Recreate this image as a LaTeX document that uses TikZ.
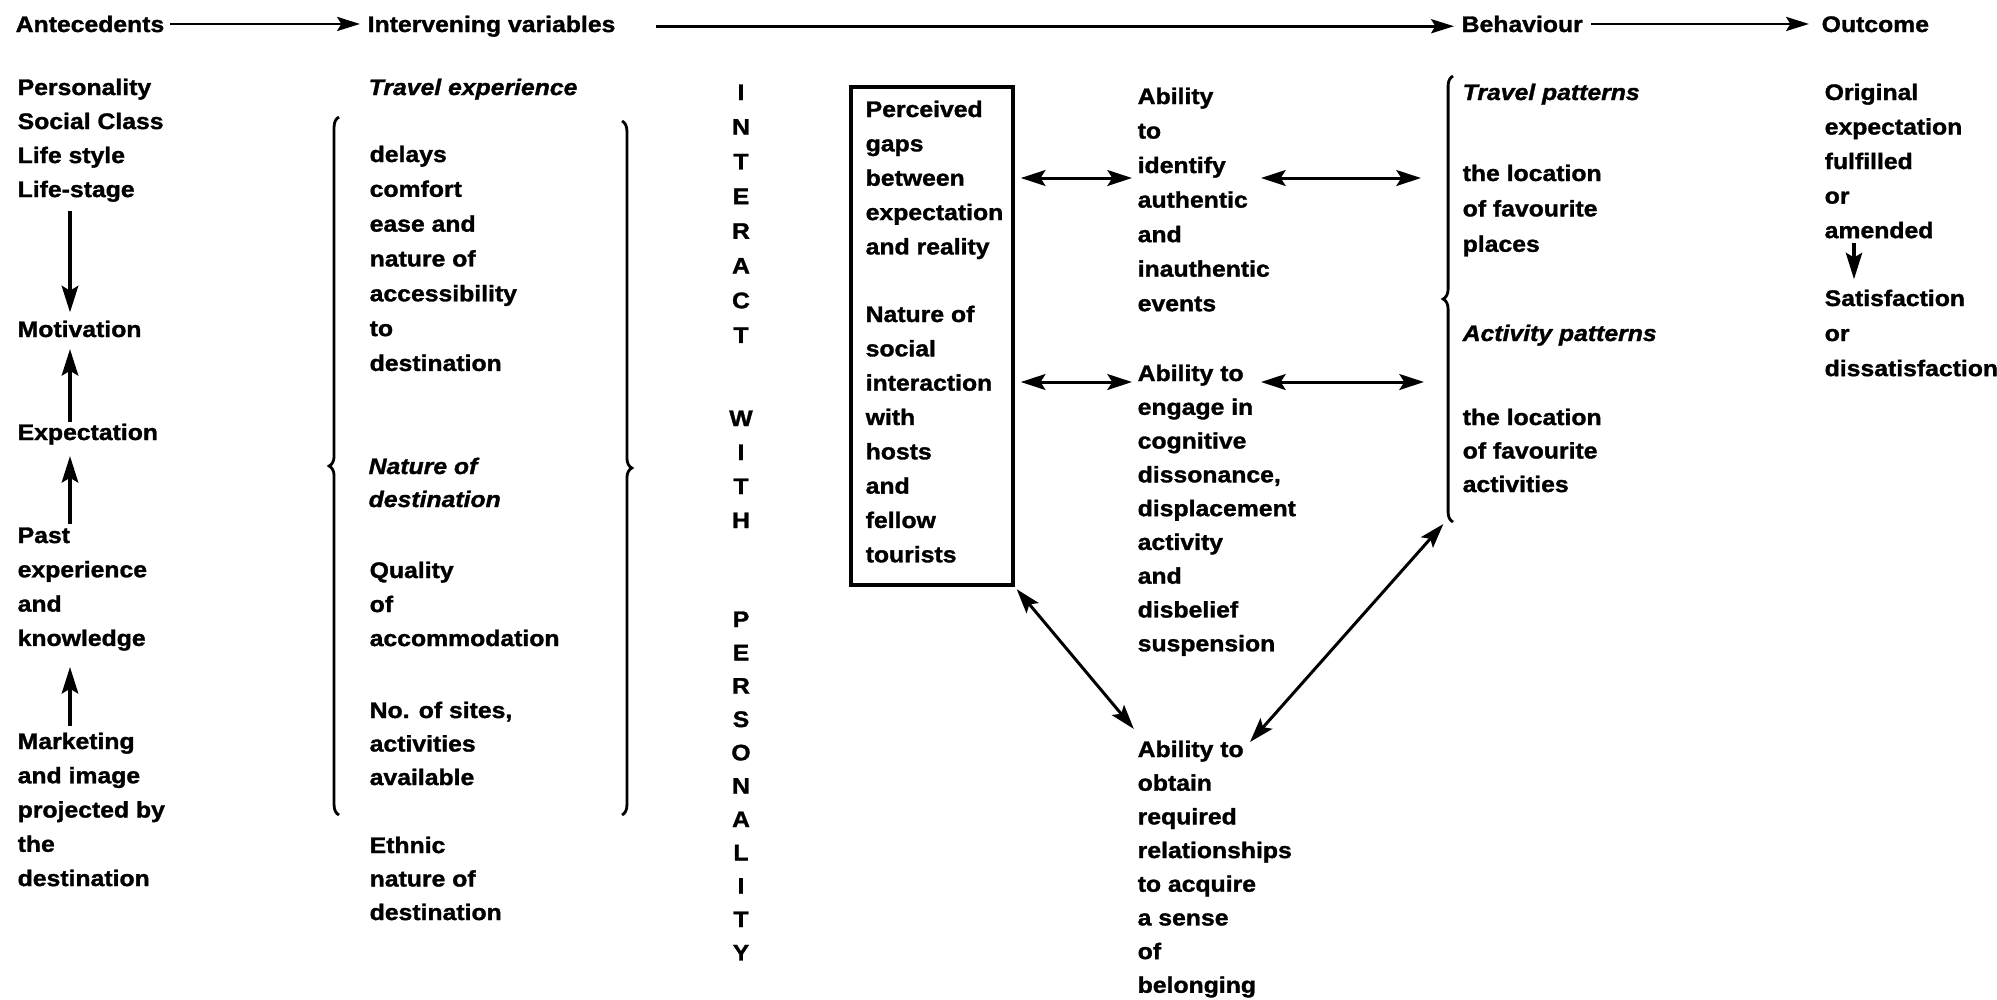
\documentclass[tikz,border=0pt]{standalone}
\usepackage{fontspec}
\setmainfont{Liberation Sans}[FakeStretch=1.1, BoldFeatures={FakeBold=1.4}, BoldItalicFeatures={FakeBold=1.4}]
\usetikzlibrary{arrows.meta,decorations.pathreplacing}
\newcommand\txtfont{\fontsize{6.4}{9.674}\selectfont\bfseries}
\newcommand\lines[2][1]{\renewcommand\arraystretch{#1}\begin{tabular}[t]{@{}l@{}}#2\end{tabular}}
\newcommand\clines[2][1]{\renewcommand\arraystretch{#1}\begin{tabular}[t]{@{}c@{}}#2\end{tabular}}
\tikzset{
  txt/.style={inner sep=0pt, anchor=base west, font=\txtfont},
  itxt/.style={inner sep=0pt, anchor=base west, font=\txtfont\itshape},
  ctr/.style={inner sep=0pt, anchor=base, font=\txtfont},
  toparr/.style={line width=0.8pt, -{Stealth[length=6.5pt,width=4pt,inset=1.2pt]}},
  uparr/.style={line width=1.3pt, -{Stealth[length=7.5pt,width=4.6pt,inset=1.3pt]}},
  dblarr/.style={line width=0.85pt, {Stealth[length=7pt,width=4.5pt,inset=1.4pt]}-{Stealth[length=7pt,width=4.5pt,inset=1.4pt]}},
  brc/.style={line width=0.8pt, decorate, decoration={brace, amplitude=2.8pt}},
}
\begin{document}
\begin{tikzpicture}[x=0.01cm,y=-0.01cm]
\useasboundingbox (0,0) rectangle (1997,999);

% header row
\node[txt] (antec) at (15,32) {Antecedents};
\node[txt] (interv) at (367,32) {Intervening variables};
\node[txt] (behav) at (1461,32) {Behaviour};
\node[txt] (outc) at (1821,32) {Outcome};
\draw[toparr, shorten <=0.05cm, shorten >=0.07cm] (antec.east) -- (antec.east -| interv.west);
\draw[toparr, shorten <=0.4cm, shorten >=0.07cm] (interv.east) -- (interv.east -| behav.west);
\draw[toparr, shorten <=0.08cm, shorten >=0.12cm] (behav.east) -- (behav.east -| outc.west);

% antecedents column
\coordinate (lx) at (70,0);
\node[txt] (pers) at (17,95) {\lines{Personality\\Social Class\\Life style\\Life-stage}};
\node[txt] (motiv) at (17,337) {\lines{Motivation}};
\node[txt] (expect) at (17,440) {\lines{Expectation}};
\node[txt] (past) at (17,543) {\lines[1.008]{Past\\experience\\and\\knowledge}};
\node[txt] (mark) at (17,749) {\lines[1.007]{Marketing\\and image\\projected by\\the\\destination}};
\draw[uparr, shorten <=0.03cm] (pers.south -| lx) -- (motiv.north -| lx);
\draw[uparr, shorten <=-0.06cm, shorten >=0.01cm] (expect.north -| lx) -- (motiv.south -| lx);
\draw[uparr, shorten <=-0.06cm, shorten >=0.05cm] (past.north -| lx) -- (expect.south -| lx);
\draw[uparr, shorten <=-0.02cm, shorten >=0.1cm] (mark.north -| lx) -- (past.south -| lx);

% intervening variables column
\node[itxt] (travexp) at (368,95) {Travel experience};
\node[txt] (access) at (369,162) {\lines[1.0235]{delays\\comfort\\ease and\\nature of\\accessibility\\to\\destination}};
\node[itxt] (natdest) at (368,474) {\lines[0.97]{Nature of\\destination}};
\node[txt] (qual) at (369,578) {\lines{Quality\\of\\accommodation}};
\node[txt] (sites) at (369,718) {\lines[0.985]{No. of sites,\\activities\\available}};
\node[txt] (ethnic) at (369,853) {\lines[0.985]{Ethnic\\nature of\\destination}};
\draw[brc] (339,815) -- (339,117);
\draw[brc] (622,121) -- (622,815);

% interact with personality
\node[ctr] (interact) at (741,100) {\clines[1.02]{I\\N\\T\\E\\R\\A\\C\\T}};
\node[ctr] (with) at (741,426) {\clines{W\\I\\T\\H}};
\node[ctr] (persn) at (741,627) {\clines[0.98]{P\\E\\R\\S\\O\\N\\A\\L\\I\\T\\Y}};

% box
\node[draw, line width=1pt, minimum width=1.62cm, minimum height=4.98cm, inner sep=0pt] (gapbox) at (932,336) {};
\node[txt] (gaps) at (865,117) {\lines[1.01]{Perceived\\gaps\\between\\expectation\\and reality}};
\node[txt] (social) at (865,322) {\lines[1.009]{Nature of\\social\\interaction\\with\\hosts\\and\\fellow\\tourists}};

% abilities column
\node[txt] (ident) at (1137,104) {\lines[1.015]{Ability\\to\\identify\\authentic\\and\\inauthentic\\events}};
\node[txt] (engage) at (1137,381) {\lines[0.993]{Ability to\\engage in\\cognitive\\dissonance,\\displacement\\activity\\and\\disbelief\\suspension}};
\node[txt] (belong) at (1137,757) {\lines[0.99]{Ability to\\obtain\\required\\relationships\\to acquire\\a sense\\of\\belonging}};

% behaviour column
\node[itxt] (travpat) at (1462,100) {Travel patterns};
\node[txt] (places) at (1462,181) {\lines[1.04]{the location\\of favourite\\places}};
\node[itxt] (actpat) at (1462,341) {Activity patterns};
\node[txt] (acts) at (1462,425) {\lines[0.985]{the location\\of favourite\\activities}};
\draw[brc] (1453,522) -- (1453,76);

% outcome column
\coordinate (ox) at (1854,0);
\node[txt] (orig) at (1824,100) {\lines[1.015]{Original\\expectation\\fulfilled\\or\\amended}};
\node[txt] (satis) at (1824,306) {\lines[1.03]{Satisfaction\\or\\dissatisfaction}};
\draw[uparr, line width=1pt, shorten <=-0.064cm, shorten >=0.015cm] (orig.south -| ox) -- (satis.north -| ox);

% middle connectors
\coordinate (r1) at (0,178);
\coordinate (r2) at (0,382);
\coordinate (r1s) at (1261,178);
\coordinate (r2s) at (1261,382);
\coordinate (bbr) at (1448,0);
\coordinate (bb) at (1446,521);
\coordinate (abt) at (1250,742);
\draw[dblarr, shorten <=0.06cm, shorten >=0.05cm] (gapbox.east |- r1) -- (ident.west |- r1);
\draw[dblarr, shorten <=0.06cm, shorten >=0.05cm] (gapbox.east |- r2) -- (engage.west |- r2);
\draw[dblarr, shorten >=0.27cm] (r1s) -- (r1s -| bbr);
\draw[dblarr, shorten >=0.24cm] (r2s) -- (r2s -| bbr);
\draw[dblarr, shorten <=0.03cm, shorten >=0.05cm] (gapbox.south east) -- (belong.north west);
\draw[dblarr, shorten <=0.04cm] (bb) -- (abt);
\end{tikzpicture}
\end{document}
